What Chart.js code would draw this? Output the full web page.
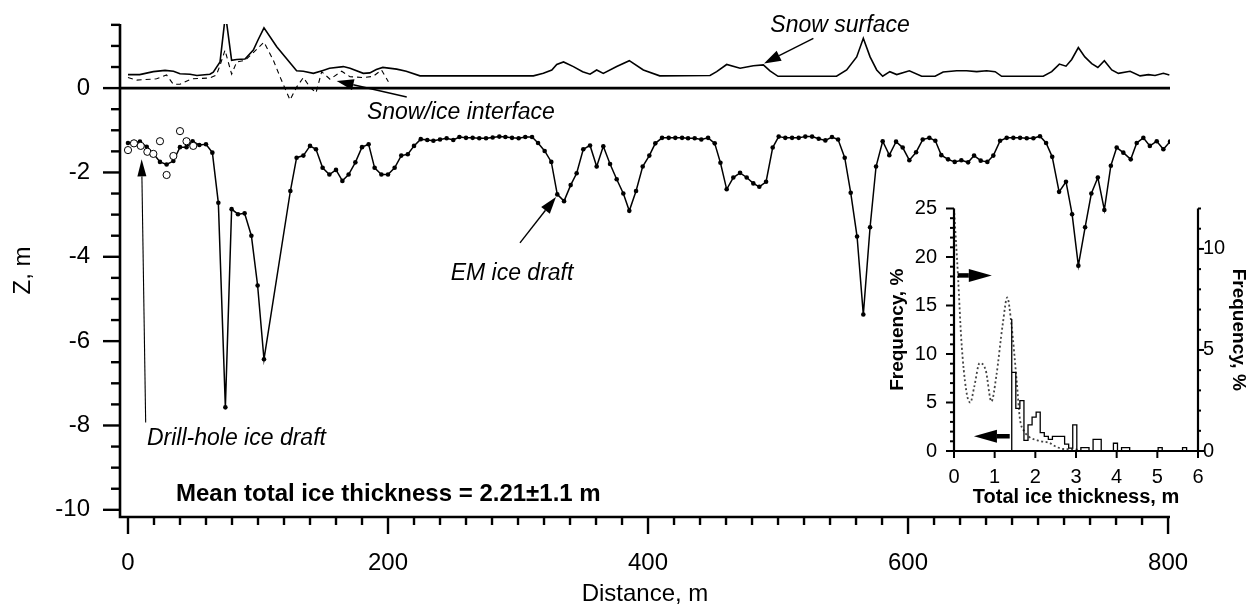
<!DOCTYPE html>
<html><head><meta charset="utf-8">
<script src="https://cdn.jsdelivr.net/npm/chart.js@4"></script>
<style>
html,body{margin:0;padding:0;background:#fff;}
#wrap{position:relative;width:1249px;height:608px;background:#fff;}
#main{position:absolute;left:0;top:0;}
#inset{position:absolute;left:880px;top:190px;}
</style></head><body>
<div id="wrap"><canvas id="main" width="1249" height="608"></canvas><canvas id="inset" width="369" height="320"></canvas></div>
<script>
// ---------------- DATA ----------------
const emX = [0,4.7,9.2,14.4,19.5,24.6,29.7,34.9,40,45,
 49.7,54.9,60,64.9,69.5,74.9,79.7,84.6,89.7,94.9,
 99.7,104.6,124.9,129.7,134.9,140,144.6,149.7,154.9,160,
 164.9,169.7,174.9,180,185.1,189.7,194.9,200,205.1,210.2,
 215.2,220,225.2,230.2,234.9,240,245.1,250.2,254.9,260,
 265.1,270.2,275.4,280.5,285.6,290.3,295.4,300.5,305.6,310.8,
 315.4,320.5,325.6,330.2,335.4,340.5,345.1,350.2,355.4,360.5,
 365.6,370.8,375.9,381,385.6,390.8,395.9,401,405.6,410.8,
 415.9,421,426.2,430.8,435.9,441,446.2,451.3,455.7,460.5,
 465.6,470.8,475.9,481,485.6,490.8,495.9,500.5,505.6,510.8,
 515.9,521,526.2,531.3,536.4,541.5,546.2,551.3,555.9,560.8,
 565.6,570.8,575.4,580.5,585.6,590.8,595.9,601,606.2,611.3,
 616.4,621,625.6,630.8,635.9,641,646.2,650.8,655.9,661,
 665.6,670.8,675.9,681,686.2,691.3,696.4,701.5,706.2,710.9,
 716.2,721.5,726.2,731,736.2,741,746,751,756,760.5,
 765.6,771.3,775.9,781,786,791.3,796.4,801.5];
const emZ = [-1.30,-1.28,-1.27,-1.39,-1.55,-1.75,-1.81,-1.73,-1.40,-1.40,
 -1.26,-1.35,-1.33,-1.53,-2.72,-7.57,-2.87,-2.99,-2.97,-3.50,
 -4.68,-6.43,-2.44,-1.65,-1.60,-1.37,-1.45,-1.89,-2.05,-1.94,
 -2.20,-2.05,-1.76,-1.40,-1.33,-1.89,-2.05,-2.05,-1.89,-1.60,
 -1.57,-1.37,-1.21,-1.23,-1.25,-1.22,-1.19,-1.23,-1.16,-1.18,
 -1.18,-1.19,-1.19,-1.17,-1.15,-1.16,-1.18,-1.19,-1.16,-1.16,
 -1.30,-1.49,-1.75,-2.52,-2.68,-2.30,-2.02,-1.45,-1.36,-1.86,
 -1.38,-1.80,-2.16,-2.50,-2.91,-2.44,-1.86,-1.60,-1.31,-1.18,
 -1.18,-1.18,-1.18,-1.19,-1.19,-1.22,-1.18,-1.31,-1.77,-2.40,
 -2.12,-2.01,-2.12,-2.26,-2.34,-2.22,-1.41,-1.15,-1.18,-1.18,
 -1.18,-1.15,-1.15,-1.20,-1.24,-1.16,-1.22,-1.65,-2.48,-3.52,
 -5.37,-3.30,-1.86,-1.26,-1.59,-1.27,-1.41,-1.71,-1.52,-1.22,
 -1.18,-1.25,-1.59,-1.69,-1.75,-1.71,-1.76,-1.60,-1.72,-1.75,
 -1.60,-1.25,-1.18,-1.18,-1.18,-1.19,-1.19,-1.14,-1.30,-1.63,
 -2.46,-2.22,-2.99,-4.21,-3.30,-2.50,-2.12,-2.89,-1.84,-1.41,
 -1.53,-1.69,-1.30,-1.18,-1.37,-1.26,-1.45,-1.27];

const drillX = [0,4.6,9.8,14.9,19.5,24.6,29.7,34.9,40,45,50.2];
const drillZ = [-1.47,-1.31,-1.37,-1.51,-1.56,-1.26,-2.06,-1.61,-1.02,-1.26,-1.37];

const snowX = [0,9,19.5,28.5,35,40,47.7,53,63,65.6,70.8,75,79.7,83.6,90,96.4,100,104.6,114.4,
 129.7,134.9,142.6,150,155,165.6,170.8,181,186,191,196,206.7,214,224.6,311.8,319.5,326,329.8,
 335,342.6,349.7,355.4,360.5,365.6,375.9,385.6,396.4,409,447.7,452.8,460.5,470.8,481,488.7,
 493.8,500,545,552.8,560.5,565.6,570.8,575.9,580.5,586,591.3,601,610.5,620.8,627,637.4,645,
 652.8,660.5,667,672,704,710.5,716.4,721.5,725.9,731,736,741.3,746,751,756.7,761.8,770.8,
 778.5,784.9,790,796.4,801];
const snowZ = [0.32,0.32,0.39,0.42,0.40,0.34,0.33,0.30,0.33,0.38,0.62,1.75,0.66,0.68,0.69,0.90,1.14,1.43,0.98,
 0.41,0.40,0.35,0.42,0.47,0.51,0.47,0.35,0.36,0.44,0.49,0.45,0.40,0.29,0.29,0.35,0.43,0.56,
 0.62,0.51,0.39,0.33,0.43,0.35,0.51,0.65,0.43,0.29,0.30,0.39,0.56,0.47,0.53,0.55,
 0.41,0.28,0.28,0.43,0.74,1.18,0.74,0.43,0.28,0.39,0.32,0.41,0.28,0.28,0.38,0.41,0.41,
 0.39,0.41,0.39,0.28,0.28,0.39,0.57,0.52,0.68,0.96,0.74,0.58,0.49,0.65,0.43,0.35,0.40,
 0.29,0.32,0.30,0.35,0.31];

const ifaceX = [0,6.7,22,29.7,34.9,40,49,63,68,70.8,74.6,79.7,83.6,90,96.4,104.6,111.8,118,124.6,
 129.8,134.9,140,144.6,149,155.4,164.4,170.8,181,188.7,195,200.3];
const ifaceZ = [0.25,0.19,0.22,0.31,0.09,0.09,0.22,0.24,0.31,0.54,0.90,0.33,0.62,0.66,0.84,1.09,0.66,0.19,-0.28,
 0.03,0.25,0.02,-0.11,0.39,0.21,0.40,0.27,0.25,0.28,0.43,0.15];

// main axis ticks
const xTickVals = [0,20,40,60,80,100,120,140,160,180,200,220,240,260,280,300,320,340,360,380,
 400,420,440,460,480,500,520,540,560,580,600,620,640,660,680,700,720,740,760,780,800];
const xTickLabels = [0,200,400,600,800];
const yTickVals = [-10,-9.5,-9,-8.5,-8,-7.5,-7,-6.5,-6,-5.5,-5,-4.5,-4,-3.5,-3,-2.5,-2,-1.5,-1,-0.5,0,0.5,1,1.5];
const yTickLabels = [-10,-8,-6,-4,-2,0];

// inset: histogram of total ice thickness (left axis, %), bins 0.1 m
const histBinLeft = [1.42,1.52,1.62,1.72,1.82,1.92,2.02,2.12,2.22,2.32,2.42,2.52,2.62,2.72,2.82,2.92,3.02,3.12,
 3.22,3.32,3.42,3.52,3.62,3.72,3.82,3.92,4.02,4.12,4.22,4.32,4.42,4.52,4.62,4.72,4.82,4.92,5.02,5.12,5.22,
 5.32,5.42,5.52,5.62,5.72,5.82];
const histFreq = [13.6,8.1,4.4,5.2,1.1,2.7,3.5,4.0,1.9,1.5,1.2,1.5,1.5,1.5,0.7,0.3,2.7,0,
 0.35,0.35,0,1.2,1.2,0,0,0,0.8,0,0.35,0.35,0,0,0,0,0,0,0,0.35,0,
 0,0,0,0,0.35,0];
// inset: dotted distribution (right axis, %)
const curveT = [0,0.1,0.18,0.3,0.4,0.5,0.63,0.78,0.92,1.04,1.2,1.31,1.41,1.54,1.62,1.72,1.85,2.1,2.35,2.5,2.7,3.0,3.1];
const curveF = [12,8.6,5.5,3.0,2.4,3.2,4.35,4.0,2.45,3.7,6.3,7.6,6.3,3.5,1.6,1.0,0.7,0.5,0.4,0.22,0.1,0.08,0];

const insetXTicks = [0,1,2,3,4,5,6];
const insetLeftTicks = [0,1,2,3,4,5,6,7,8,9,10,11,12,13,14,15,16,17,18,19,20,21,22,23,24,25];
const insetLeftLabels = [0,5,10,15,20,25];
const insetRightTicks = [0,1,2,3,4,5,6,7,8,9,10,11,12];
const insetRightLabels = [0,5,10];

// ---------------- HELPERS ----------------
const FONT = "'Liberation Sans', Arial, Helvetica, sans-serif";
const toPts = (xs, ys) => xs.map((x, i) => ({x: x, y: ys[i]}));
function seg(ctx, x1, y1, x2, y2) { ctx.beginPath(); ctx.moveTo(x1, y1); ctx.lineTo(x2, y2); ctx.stroke(); }
function arrow(ctx, x1, y1, x2, y2, lw, headLen, headHalf) {
  const a = Math.atan2(y2 - y1, x2 - x1);
  const bx = x2 - headLen * Math.cos(a), by = y2 - headLen * Math.sin(a);
  ctx.lineWidth = lw;
  seg(ctx, x1, y1, bx, by);
  ctx.beginPath();
  ctx.moveTo(x2, y2);
  ctx.lineTo(bx + headHalf * Math.sin(a), by - headHalf * Math.cos(a));
  ctx.lineTo(bx - headHalf * Math.sin(a), by + headHalf * Math.cos(a));
  ctx.closePath(); ctx.fill();
}
const noPad = s => { s.paddingTop = 0; s.paddingBottom = 0; s.paddingLeft = 0; s.paddingRight = 0; };

// annotations (data coordinates)
const mainNotes = [
  {text: 'Snow surface', x: 547.7, y: 1.33, align: 'center', font: 'italic 23px ' + FONT},
  {text: 'Snow/ice interface', x: 183.8, y: -0.735, align: 'left', font: 'italic 23px ' + FONT},
  {text: 'EM ice draft', x: 295.4, y: -4.55, align: 'center', font: 'italic 23px ' + FONT},
  {text: 'Drill-hole ice draft', x: 14.6, y: -8.47, align: 'left', font: 'italic 23px ' + FONT},
  {text: 'Mean total ice thickness = 2.21\u00b11.1 m', x: 36.9, y: -9.78, align: 'left', font: 'bold 24px ' + FONT}
];
const mainArrows = [
  {x1: 527.2, y1: 1.18, x2: 489.2, y2: 0.585, lw: 1.4, hl: 17, hw: 5.5},
  {x1: 214.4, y1: -0.21, x2: 160.5, y2: 0.17, lw: 1.4, hl: 17, hw: 5.5},
  {x1: 301.5, y1: -3.67, x2: 329.2, y2: -2.58, lw: 1.4, hl: 17, hw: 5.5},
  {x1: 13.6, y1: -7.93, x2: 10.5, y2: -1.69, lw: 1.1, hl: 17, hw: 4.5}
];
const insetArrows = [
  {x1: 0.09, y1: 18.1, x2: 0.93, y2: 18.1},
  {x1: 1.37, y1: 1.52, x2: 0.49, y2: 1.52}
];

// ---------------- MAIN CHART ----------------
const mainDecor = {
  id: 'mainDecor',
  beforeDatasetsDraw(chart) {
    const {ctx, chartArea: a, scales: {y}} = chart;
    ctx.save();
    ctx.strokeStyle = '#000'; ctx.lineWidth = 2.6;
    const p0 = y.getPixelForValue(0);
    seg(ctx, a.left, p0, a.right, p0);
    ctx.restore();
  },
  afterDraw(chart) {
    const {ctx, chartArea: a, scales: {x, y}} = chart;
    ctx.save();
    ctx.strokeStyle = '#000'; ctx.fillStyle = '#000';
    ctx.lineWidth = 2.6; ctx.lineCap = 'butt';
    ctx.beginPath(); ctx.moveTo(a.left, a.top); ctx.lineTo(a.left, a.bottom); ctx.lineTo(a.right, a.bottom); ctx.stroke();
    ctx.lineWidth = 2.4;
    yTickVals.forEach(v => { const p = y.getPixelForValue(v); const len = yTickLabels.includes(v) ? 17 : 9; seg(ctx, a.left - len, p, a.left, p); });
    xTickVals.forEach(v => { const p = x.getPixelForValue(v); const len = xTickLabels.includes(v) ? 17 : 8; seg(ctx, p, a.bottom, p, a.bottom + len); });
    mainNotes.forEach(n => {
      ctx.font = n.font; ctx.textAlign = n.align; ctx.textBaseline = 'alphabetic';
      ctx.fillText(n.text, x.getPixelForValue(n.x), y.getPixelForValue(n.y));
    });
    mainArrows.forEach(r => arrow(ctx, x.getPixelForValue(r.x1), y.getPixelForValue(r.y1), x.getPixelForValue(r.x2), y.getPixelForValue(r.y2), r.lw, r.hl, r.hw));
    ctx.restore();
  }
};

new Chart(document.getElementById('main'), {
  type: 'line',
  data: { datasets: [
    {label: 'Drill-hole ice draft', data: toPts(drillX, drillZ), showLine: false, pointRadius: 3.6, pointBackgroundColor: '#fff', pointBorderColor: '#000', pointBorderWidth: 1, order: 0},
    {label: 'EM ice draft', data: toPts(emX, emZ), borderColor: '#000', borderWidth: 1.5, pointRadius: 2.3, pointBackgroundColor: '#000', pointBorderColor: '#000', pointBorderWidth: 0, tension: 0, order: 1},
    {label: 'Snow surface', data: toPts(snowX, snowZ), borderColor: '#000', borderWidth: 1.6, pointRadius: 0, tension: 0, order: 2},
    {label: 'Snow/ice interface', data: toPts(ifaceX, ifaceZ), borderColor: '#000', borderWidth: 1.1, borderDash: [5, 4], pointRadius: 0, tension: 0, order: 3}
  ]},
  options: {
    responsive: false, animation: false, devicePixelRatio: 1,
    layout: {padding: {left: 0, right: 79, top: 24, bottom: 0}},
    plugins: {legend: {display: false}, tooltip: {enabled: false}},
    scales: {
      x: {
        type: 'linear', position: 'bottom', min: -6.15, max: 801.5,
        grid: {display: false, drawTicks: false}, border: {display: false},
        afterBuildTicks: s => { s.ticks = xTickVals.map(v => ({value: v})); },
        afterFit: s => { s.height = 91; noPad(s); },
        ticks: {autoSkip: false, maxRotation: 0, minRotation: 0, padding: 32, color: '#000',
          font: {family: FONT, size: 24},
          callback: v => xTickLabels.includes(v) ? String(v) : ''},
        title: {display: true, text: 'Distance, m', color: '#000', font: {family: FONT, size: 24, lineHeight: 1.1}, padding: {top: 0, bottom: 0}}
      },
      y: {
        type: 'linear', position: 'left', min: -10.17, max: 1.52,
        grid: {display: false, drawTicks: false}, border: {display: false},
        afterBuildTicks: s => { s.ticks = yTickVals.map(v => ({value: v})); },
        afterFit: s => { s.width = 120; noPad(s); },
        ticks: {autoSkip: false, padding: 30, color: '#000',
          font: {family: FONT, size: 24},
          callback: v => yTickLabels.includes(v) ? String(v) : ''},
        title: {display: true, text: 'Z, m', color: '#000', font: {family: FONT, size: 24, lineHeight: 1.1}, padding: {top: 10, bottom: 0}}
      }
    }
  },
  plugins: [mainDecor]
});

// ---------------- INSET CHART ----------------
const histPts = [{x: histBinLeft[0], y: 0}].concat(toPts(histBinLeft, histFreq));
const insetDecor = {
  id: 'insetDecor',
  afterDraw(chart) {
    const {ctx, chartArea: a, scales: {x, y, y2}} = chart;
    ctx.save();
    ctx.strokeStyle = '#000'; ctx.fillStyle = '#000';
    ctx.lineWidth = 2.2;
    seg(ctx, a.left, a.top, a.left, a.bottom);
    seg(ctx, a.right, a.top, a.right, a.bottom);
    seg(ctx, a.left - 1, a.bottom, a.right + 1, a.bottom);
    ctx.lineWidth = 2;
    insetLeftTicks.forEach(v => { const p = y.getPixelForValue(v); const len = insetLeftLabels.includes(v) ? 8 : 4; seg(ctx, a.left - len, p, a.left, p); });
    insetRightTicks.forEach(v => { const p = y2.getPixelForValue(v); const len = insetRightLabels.includes(v) ? 6 : 3; seg(ctx, a.right, p, a.right + len, p); });
    insetXTicks.forEach(v => { const p = x.getPixelForValue(v); seg(ctx, p, a.bottom, p, a.bottom + 7); });
    insetArrows.forEach(r => arrow(ctx, x.getPixelForValue(r.x1), y.getPixelForValue(r.y1), x.getPixelForValue(r.x2), y.getPixelForValue(r.y2), 4.5, 23, 6.5));
    ctx.restore();
  }
};

new Chart(document.getElementById('inset'), {
  type: 'line',
  data: { datasets: [
    {label: 'Frequency (histogram)', data: histPts, yAxisID: 'y', stepped: 'after', borderColor: '#000', borderWidth: 1.3, pointRadius: 0, fill: false},
    {label: 'Frequency (curve)', data: toPts(curveT, curveF), yAxisID: 'y2', borderColor: '#444', borderWidth: 1.8, borderDash: [2, 2.5], pointRadius: 0, cubicInterpolationMode: 'monotone', fill: false}
  ]},
  options: {
    responsive: false, animation: false, devicePixelRatio: 1,
    layout: {padding: {left: 0, right: 0, top: 18.5, bottom: 0}},
    plugins: {legend: {display: false}, tooltip: {enabled: false}},
    scales: {
      x: {
        type: 'linear', position: 'bottom', min: 0, max: 6,
        grid: {display: false, drawTicks: false}, border: {display: false},
        afterBuildTicks: s => { s.ticks = insetXTicks.map(v => ({value: v})); },
        afterFit: s => { s.height = 59; noPad(s); },
        ticks: {autoSkip: false, maxRotation: 0, padding: 14, color: '#000', font: {family: FONT, size: 20}},
        title: {display: true, text: 'Total ice thickness, m', color: '#000', font: {family: FONT, size: 20, weight: 'bold', lineHeight: 1.2}, padding: {top: 0, bottom: 1}}
      },
      y: {
        type: 'linear', position: 'left', min: 0, max: 25,
        grid: {display: false, drawTicks: false}, border: {display: false},
        afterBuildTicks: s => { s.ticks = insetLeftTicks.map(v => ({value: v})); },
        afterFit: s => { s.width = 74; noPad(s); },
        ticks: {autoSkip: false, padding: 17, color: '#000', font: {family: FONT, size: 20},
          callback: v => insetLeftLabels.includes(v) ? String(v) : ''},
        title: {display: true, text: 'Frequency, %', color: '#000', font: {family: FONT, size: 19, weight: 'bold', lineHeight: 1.2}, padding: {top: 6.6, bottom: 0}}
      },
      y2: {
        type: 'linear', position: 'right', min: 0, max: 12,
        grid: {display: false, drawTicks: false}, border: {display: false},
        afterBuildTicks: s => { s.ticks = insetRightTicks.map(v => ({value: v})); },
        afterFit: s => { s.width = 51; noPad(s); },
        ticks: {autoSkip: false, padding: 5, color: '#000', font: {family: FONT, size: 20},
          callback: v => insetRightLabels.includes(v) ? String(v) : ''},
        title: {display: true, text: 'Frequency, %', color: '#000', font: {family: FONT, size: 19, weight: 'bold', lineHeight: 1.15}, padding: {top: 0, bottom: 0}}
      }
    }
  },
  plugins: [insetDecor]
});
</script>
</body></html>
